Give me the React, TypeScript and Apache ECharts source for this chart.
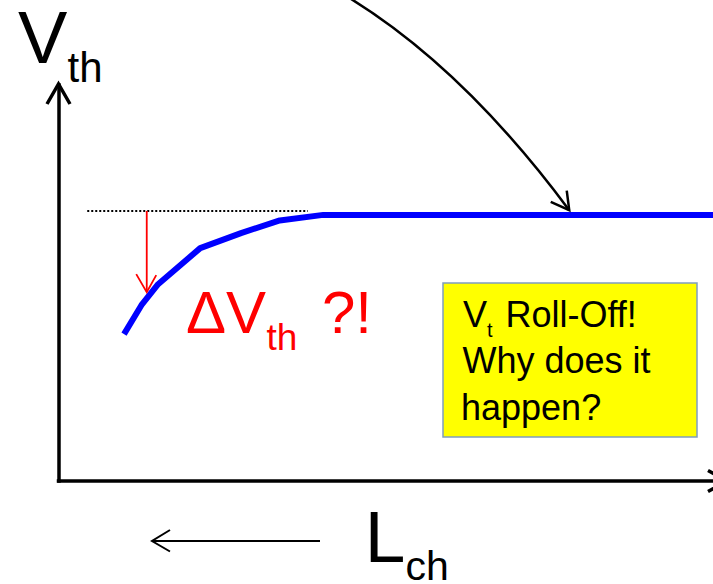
import React, { useEffect, useRef } from "react";
import * as echarts from "echarts";

// Blue Vth vs channel length curve (arbitrary units, 0..100 on both axes)
const curveX = [9.8, 12.4, 14.9, 21.2, 27.3, 33.1, 39.6, 100];
const curveY = [37.1, 44.4, 49.7, 58.8, 62.6, 65.8, 67.2, 67.2];
// Dotted long-channel reference level
const refLineX = [4.3, 37.3];
const refLineY = 68.2;
// Red delta-Vth arrow
const deltaArrowX = 13.2;
const deltaArrowY = [68.2, 47.7];
// Where the curved annotation arrow lands
const pointerTarget = [76.4, 68.4];

const FONT = "'Liberation Sans', Arial, Helvetica, sans-serif";

function txt(text: string, x: number, baseline: number, size: number, color = "#000") {
  return {
    type: "text",
    z: 20,
    style: {
      text,
      x,
      y: baseline - 0.3465 * size,
      fill: color,
      fontSize: size,
      lineHeight: Math.round(size * 0.9),
      fontFamily: FONT,
      align: "left",
      verticalAlign: "middle",
    },
  };
}

export default function App() {
  const ref = useRef<HTMLDivElement>(null);

  useEffect(() => {
    if (!ref.current) return;
    const chart = echarts.init(ref.current, undefined, { renderer: "svg" });

    const axisCommon = {
      type: "value" as const,
      min: 0,
      max: 100,
      axisLine: { show: true, onZero: false, lineStyle: { color: "#000", width: 3.5, cap: "square" } },
      axisTick: { show: false },
      axisLabel: { show: false },
      splitLine: { show: false },
    };

    chart.setOption({
      animation: false,
      backgroundColor: "#fff",
      grid: {
        left: 58.5,
        width: 668.5,
        top: 85,
        height: 396,
        containLabel: false,
        outerBoundsMode: "none",
      },
      xAxis: axisCommon,
      yAxis: axisCommon,
      series: [
        {
          type: "line",
          data: curveX.map((x, i) => [x, curveY[i]]),
          showSymbol: false,
          symbol: "none",
          lineStyle: { color: "#0000ff", width: 6 },
          z: 3,
        },
        {
          type: "line",
          data: refLineX.map((x) => [x, refLineY]),
          showSymbol: false,
          symbol: "none",
          lineStyle: { color: "#000", width: 2, type: [2, 2] },
          z: 2,
        },
      ],
    });

    const px = (x: number, y: number) => chart.convertToPixel({ gridIndex: 0 }, [x, y]) as number[];

    const yTip = px(0, 100);
    const xTip = px(100, 0);
    const dTop = px(deltaArrowX, deltaArrowY[0]);
    const dTip = px(deltaArrowX, deltaArrowY[1]);
    const pTip = px(pointerTarget[0], pointerTarget[1]);

    const graphic: any[] = [
      // axis arrowheads
      {
        type: "polyline",
        z: 20,
        shape: { points: [[yTip[0] - 11.5, yTip[1] + 19], [yTip[0], yTip[1] - 1], [yTip[0] + 11.5, yTip[1] + 19]] },
        style: { stroke: "#000", lineWidth: 3.5, fill: "none" },
      },
      {
        type: "polyline",
        z: 20,
        shape: { points: [[xTip[0] - 19, xTip[1] - 10.5], [xTip[0], xTip[1]], [xTip[0] - 19, xTip[1] + 10.5]] },
        style: { stroke: "#000", lineWidth: 3.5, fill: "none" },
      },
      // red delta arrow
      {
        type: "line",
        z: 20,
        shape: { x1: dTop[0], y1: dTop[1], x2: dTip[0], y2: dTip[1] },
        style: { stroke: "#ff0000", lineWidth: 1.8 },
      },
      {
        type: "polyline",
        z: 20,
        shape: { points: [[dTip[0] - 10.5, dTip[1] - 18], [dTip[0], dTip[1]], [dTip[0] + 9.5, dTip[1] - 17]] },
        style: { stroke: "#ff0000", lineWidth: 1.8, fill: "none" },
      },
      // curved pointer arrow
      {
        type: "bezierCurve",
        z: 20,
        shape: {
          x1: pTip[0] - 219.5,
          y1: pTip[1] - 212,
          cpx1: pTip[0] - 105,
          cpy1: pTip[1] - 141.4,
          x2: pTip[0],
          y2: pTip[1],
        },
        style: { stroke: "#000", lineWidth: 2.5, fill: "none" },
      },
      {
        type: "polyline",
        z: 20,
        shape: { points: [[pTip[0] - 18.5, pTip[1] - 8.3], [pTip[0], pTip[1]], [pTip[0] - 2.5, pTip[1] - 19.5]] },
        style: { stroke: "#000", lineWidth: 2.5, fill: "none" },
      },
      // short-channel direction arrow
      {
        type: "line",
        z: 20,
        shape: { x1: 152, y1: 541, x2: 320, y2: 541 },
        style: { stroke: "#000", lineWidth: 2 },
      },
      {
        type: "polyline",
        z: 20,
        shape: { points: [[170, 530], [152, 541], [170, 551.5]] },
        style: { stroke: "#000", lineWidth: 2, fill: "none" },
      },
      // yellow call-out box
      {
        type: "rect",
        z: 15,
        shape: { x: 443, y: 283, width: 254, height: 154 },
        style: { fill: "#ffff00", stroke: "#7f9dc0", lineWidth: 1.5 },
      },
      // axis titles
      txt("V", 18, 63, 74),
      txt("th", 67.5, 82, 42),
      txt("L", 364.7, 562, 73),
      txt("ch", 405.5, 580, 41),
      // red annotation
      txt("\u0394V", 186, 333, 60, "#ff0000"),
      txt("th", 266.5, 350, 37, "#ff0000"),
      txt("?!", 322, 333, 60, "#ff0000"),
      // box text
      txt("V", 463, 327, 36),
      txt("t", 487, 337, 20),
      txt("Roll-Off!", 505.5, 327, 36),
      txt("Why does it", 462.5, 373, 36),
      txt("happen?", 461, 420, 36),
    ];

    chart.setOption({ graphic });

    return () => chart.dispose();
  }, []);

  return (
    <div
      ref={ref}
      style={{ position: "fixed", left: 0, top: 0, width: 713, height: 584, background: "#fff" }}
    />
  );
}
